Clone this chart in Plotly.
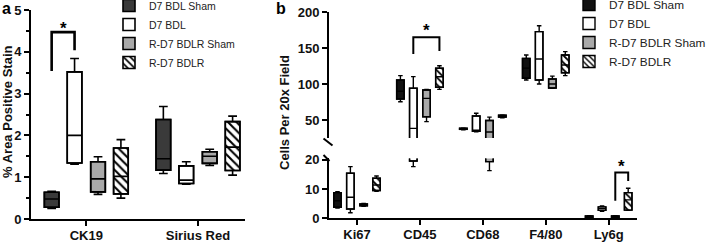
import plotly.graph_objects as go

W, H = 709, 243
def px(x): return x / W
def py(y): return 1 - y / H

FONT = "Liberation Sans, Arial, sans-serif"

# ---------------- data ----------------
groups = ["D7 BDL Sham", "D7 BDL", "R-D7 BDLR Sham", "R-D7 BDLR"]

# panel a : (min, q1, median, q3, max) per category
a_cats = ["CK19", "Sirius Red"]
a_d7_sham   = [(0.25, 0.28, 0.48, 0.64, 0.66), (1.09, 1.17, 1.44, 2.38, 2.69)]
a_d7_bdl    = [(1.31, 1.34, 2.00, 3.52, 3.84), (0.83, 0.85, 0.93, 1.27, 1.37)]
a_rd7_sham  = [(0.59, 0.65, 0.96, 1.37, 1.49), (1.28, 1.33, 1.50, 1.61, 1.67)]
a_rd7_bdlr  = [(0.50, 0.60, 1.02, 1.70, 1.90), (1.05, 1.16, 1.72, 2.33, 2.46)]

# panel b
b_cats = ["Ki67", "CD45", "CD68", "F4/80", "Ly6g"]
b_d7_sham  = [(3.5, 3.8, 6.0, 8.8, 9.1), (75.4, 79.2, 90.0, 105.6, 111.6),
              (36.5, 37.0, 37.8, 38.5, 39.0), (105.6, 107.9, 122.0, 135.6, 140.3),
              (0.2, 0.3, 0.5, 0.8, 0.9)]
b_d7_bdl   = [(1.9, 3.2, 7.2, 15.4, 17.7), (17.7, 19.6, 38.4, 94.0, 110.2),
              (33.5, 34.3, 35.5, 55.6, 59.3), (100.0, 105.6, 134.7, 172.7, 181.0),
              (2.4, 2.7, 3.3, 3.9, 4.2)]
b_rd7_sham = [(4.1, 4.3, 4.6, 4.9, 5.1), (47.7, 54.6, 80.0, 91.7, 92.6),
              (16.3, 19.4, 33.3, 49.4, 54.0), (94.0, 94.5, 100.0, 107.0, 111.0),
              (0.2, 0.3, 0.5, 0.8, 0.9)]
b_rd7_bdlr = [(9.2, 9.5, 11.4, 13.7, 14.5), (92.6, 95.4, 110.0, 121.8, 125.4),
              (53.0, 54.0, 55.5, 56.5, 57.0), (111.6, 115.7, 126.4, 140.3, 144.9),
              (2.7, 2.8, 6.3, 8.8, 10.3)]

a_ticks = [0, 1, 2, 3, 4, 5]
b_upper_ticks = [50, 100, 150, 200]
b_lower_ticks = [0, 10, 20]

# significance brackets: (category, left group, right group, y left foot, y top, y right foot)
a_sig = [(0, 0, 1, 3.54, 4.47, 4.04)]
b_sig_upper = [(1, 1, 3, 141.7, 164.9, 145.8)]
b_sig_lower = [(4, 2, 3, 6.0, 15.7, 12.8)]

# ---------------- styling ----------------
OFFS = [-0.31, -0.105, 0.105, 0.31]
a_fill = ["#3a3a3a", "white", "#a9a9a9", "white"]
b_fill = ["#111111", "white", "#a9a9a9", "white"]

fig = go.Figure()

def add_group_traces(stats, g, fills, width, xa, yas, legend, hsize, lw):
    xs = [i + OFFS[g] for i in range(len(stats))]
    lo = [s[0] for s in stats]
    q1 = [s[1] for s in stats]
    md = [s[2] for s in stats]
    q3 = [s[3] for s in stats]
    hi = [s[4] for s in stats]
    pattern = dict(shape="\\", fgcolor="black", bgcolor="white", size=hsize,
                   solidity=0.35, fillmode="replace") if g == 3 else dict(shape="")
    for k, ya in enumerate(yas):
        fig.add_trace(go.Bar(
            x=xs, y=[b - a for a, b in zip(q1, q3)], base=q1, width=width,
            marker=dict(color=fills[g], line=dict(color="black", width=lw), pattern=pattern),
            name=groups[g], legend=legend, showlegend=(k == 0),
            xaxis=xa, yaxis=ya, hoverinfo="skip"))
        fig.add_trace(go.Box(
            x=xs, q1=q1, median=md, q3=q3, lowerfence=lo, upperfence=hi,
            width=width, whiskerwidth=0.6, fillcolor="rgba(0,0,0,0)",
            line=dict(color="black", width=lw), boxpoints=False,
            showlegend=False, xaxis=xa, yaxis=ya, hoverinfo="skip"))

a_sets = [a_d7_sham, a_d7_bdl, a_rd7_sham, a_rd7_bdlr]
b_sets = [b_d7_sham, b_d7_bdl, b_rd7_sham, b_rd7_bdlr]
for g in range(4):
    add_group_traces(a_sets[g], g, a_fill, 0.131, "x", ["y"], "legend", 6, 1.6)
for g in range(4):
    add_group_traces(b_sets[g], g, b_fill, 0.12, "x2", ["y2", "y3"], "legend2", 5, 1.4)

def add_brackets(sig, xa, ya, lw, yshift):
    for c, gl, gr, yl, yt, yr in sig:
        xl, xr = c + OFFS[gl], c + OFFS[gr]
        fig.add_trace(go.Scatter(x=[xl, xl, xr, xr], y=[yl, yt, yt, yr], mode="lines",
                                 line=dict(color="black", width=lw), showlegend=False,
                                 xaxis=xa, yaxis=ya, hoverinfo="skip", cliponaxis=False))
        fig.add_annotation(x=(xl + xr) / 2, y=yt, xref=xa, yref=ya, text="<b>*</b>",
                           showarrow=False, yanchor="bottom", yshift=yshift,
                           font=dict(family=FONT, size=17, color="black"))

add_brackets(a_sig, "x", "y", 2.6, -8)
add_brackets(b_sig_upper, "x2", "y2", 2, -5)
add_brackets(b_sig_lower, "x2", "y3", 2, -6)

tickfont = dict(family=FONT, size=13, color="#111", weight="bold")
axis_common = dict(showline=True, linecolor="black", linewidth=2, ticks="outside",
                   tickwidth=2, tickcolor="black", showgrid=False, zeroline=False,
                   tickfont=tickfont, ticklabeloverflow="allow")

fig.update_layout(
    xaxis=dict(domain=[px(31), px(245)], range=[-0.495, 1.421], tickvals=[0, 1],
               ticktext=a_cats, anchor="y", ticklen=5, ticklabelstandoff=-2, **axis_common),
    yaxis=dict(domain=[py(219), py(10)], range=[0, 5], tickmode="linear",
               tick0=a_ticks[0], dtick=a_ticks[1] - a_ticks[0], anchor="x", ticklen=5,
               minor=dict(dtick=0.5, ticklen=3, tickwidth=1.5, ticks="outside",
                          tickcolor="black"),
               **axis_common),
    xaxis2=dict(domain=[px(329), px(637)], range=[-0.445, 4.45], tickvals=list(range(5)),
                ticktext=b_cats, anchor="y3", ticklen=5, ticklabelstandoff=-2, **axis_common),
    yaxis2=dict(domain=[py(138), py(12)], range=[25, 200], tickvals=b_upper_ticks,
                anchor="x2", ticklen=5, **axis_common),
    yaxis3=dict(domain=[py(218.3), py(158.4)], range=[0, 20.5], tickvals=b_lower_ticks,
                anchor="x2", ticklen=5, **axis_common),
)

# axis break marks
for (x0, y0, x1, y1) in [(323.5, 138.5, 332.5, 145.5), (323.5, 155.0, 329.5, 161.0)]:
    fig.add_shape(type="line", xref="paper", yref="paper", x0=px(x0), y0=py(y0),
                  x1=px(x1), y1=py(y1), line=dict(color="black", width=2))

titlefont = dict(family=FONT, size=13, color="#111", weight="bold")
fig.add_annotation(text="% Area Positive Stain", x=px(7), y=py(112), xref="paper",
                   yref="paper", xanchor="center", yanchor="middle", textangle=-90,
                   showarrow=False, font=titlefont)
fig.add_annotation(text="Cells Per 20x Field", x=px(284), y=py(113), xref="paper",
                   yref="paper", xanchor="center", yanchor="middle", textangle=-90,
                   showarrow=False, font=titlefont)
panel_font = dict(family=FONT, size=16, color="black", weight="bold")
fig.add_annotation(text="a", x=px(0), y=py(-2), xref="paper", yref="paper",
                   xanchor="left", yanchor="top", showarrow=False, font=panel_font)
fig.add_annotation(text="b", x=px(274), y=py(-2), xref="paper", yref="paper",
                   xanchor="left", yanchor="top", showarrow=False, font=panel_font)

fig.update_layout(
    width=W, height=H, margin=dict(l=0, r=0, t=0, b=0, autoexpand=False),
    paper_bgcolor="white", plot_bgcolor="white",
    barmode="overlay", boxmode="overlay",
    legend=dict(x=px(109), y=py(-9), xanchor="left", yanchor="top",
                bgcolor="rgba(0,0,0,0)", font=dict(family=FONT, size=10.5, color="#222"),
                traceorder="normal", itemclick=False, itemdoubleclick=False),
    legend2=dict(x=px(569), y=py(-10), xanchor="left", yanchor="top",
                 bgcolor="rgba(0,0,0,0)", font=dict(family=FONT, size=11.8, color="#222"),
                 traceorder="normal", itemclick=False, itemdoubleclick=False),
)

fig.write_html("out.html", config={"displayModeBar": False},
               post_script="document.body.style.margin='0';")
